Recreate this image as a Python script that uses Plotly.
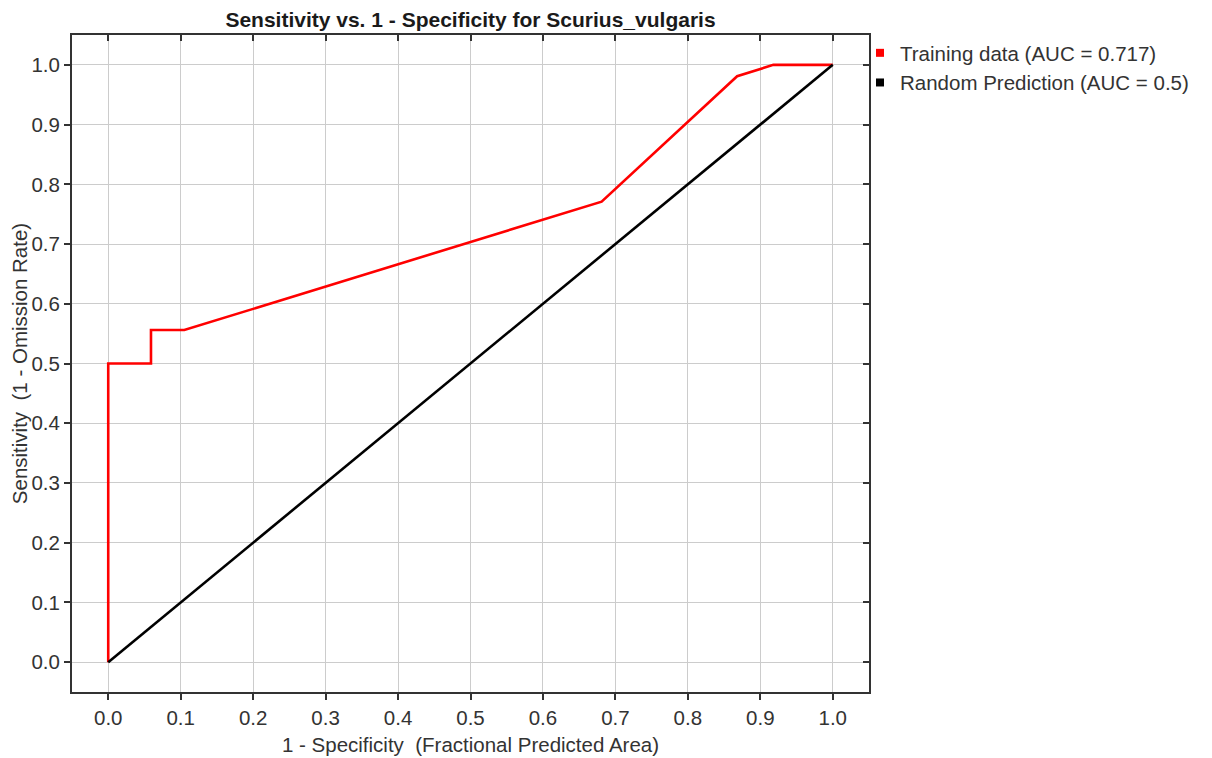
import plotly.graph_objects as go

# Data
train_x = [0.0, 0.0, 0.059, 0.059, 0.105, 0.681, 0.868, 0.918, 1.0]
train_y = [0.0, 0.5, 0.5, 0.556, 0.556, 0.771, 0.981, 1.0, 1.0]
random_x = [0.0, 1.0]
random_y = [0.0, 1.0]
tick_vals = [0.0, 0.1, 0.2, 0.3, 0.4, 0.5, 0.6, 0.7, 0.8, 0.9, 1.0]
tick_text = ["0.0", "0.1", "0.2", "0.3", "0.4", "0.5", "0.6", "0.7", "0.8", "0.9", "1.0"]
series_names = ["Training data (AUC = 0.717)", "Random Prediction (AUC = 0.5)"]
series_colors = ["#ff0000", "#000000"]

FONT = "Liberation Sans, Arial, sans-serif"
TXT = "#333333"
FS = 20.5

# page body has an 8px default margin -> figure drawn at (8, 8)
W, H = 1204, 750
L, T = 64, 27
PW, PH = 797, 657

fig = go.Figure()
fig.add_trace(go.Scatter(x=train_x, y=train_y, mode="lines",
                         line=dict(color=series_colors[0], width=2.6),
                         showlegend=False, hoverinfo="x+y"))
fig.add_trace(go.Scatter(x=random_x, y=random_y, mode="lines",
                         line=dict(color=series_colors[1], width=2.6),
                         showlegend=False, hoverinfo="x+y"))
# legend entries (square swatches)
for name, col in zip(series_names, series_colors):
    fig.add_trace(go.Scatter(x=[None], y=[None], mode="markers", name=name,
                             marker=dict(symbol="square", size=8, color=col),
                             showlegend=True))

# mirror axes with inside ticks (top / right)
fig.add_trace(go.Scatter(x=[None], y=[None], xaxis="x2", yaxis="y2", showlegend=False))

axis_common = dict(range=[-0.05, 1.05], tickvals=tick_vals, ticktext=tick_text,
                   showgrid=True, gridcolor="#cccccc", gridwidth=1, zeroline=False,
                   showline=True, linecolor="#333333", linewidth=2, automargin=False,
                   ticks="outside", ticklen=6, tickwidth=2, tickcolor="#333333",
                   tickfont=dict(family=FONT, size=FS, color=TXT))

mirror_common = dict(range=[-0.05, 1.05], tickvals=tick_vals,
                     showticklabels=False, showgrid=False, zeroline=False, automargin=False,
                     showline=True, linecolor="#333333", linewidth=2,
                     ticks="inside", ticklen=6, tickwidth=2, tickcolor="#333333")

fig.update_layout(
    width=W, height=H,
    paper_bgcolor="white", plot_bgcolor="white",
    margin=dict(l=L, r=W - L - PW, t=T, b=H - T - PH, autoexpand=False),
    title=dict(text="<b>Sensitivity vs. 1 - Specificity for Scurius_vulgaris</b>",
               x=(L + PW / 2) / W, xanchor="center", y=1 - 12 / H, yanchor="middle",
               font=dict(family=FONT, size=21, color="#1a1a1a")),
    xaxis=dict(**axis_common,
               title=dict(text="1 - Specificity \u00a0(Fractional Predicted Area)",
                          font=dict(family=FONT, size=FS, color=TXT), standoff=10)),
    yaxis=dict(**axis_common,
               title=dict(text="Sensitivity \u00a0(1 - Omission Rate)",
                          font=dict(family=FONT, size=FS, color=TXT), standoff=4)),
    xaxis2=dict(**mirror_common, overlaying="x", side="top"),
    yaxis2=dict(**mirror_common, overlaying="y", side="right"),
    legend=dict(x=(852 - L) / PW, xanchor="left", y=1 + 2 / PH, yanchor="top",
                font=dict(family=FONT, size=FS, color=TXT), bgcolor="rgba(0,0,0,0)",
                tracegroupgap=0, itemwidth=30),
)

fig.write_html("out.html")
